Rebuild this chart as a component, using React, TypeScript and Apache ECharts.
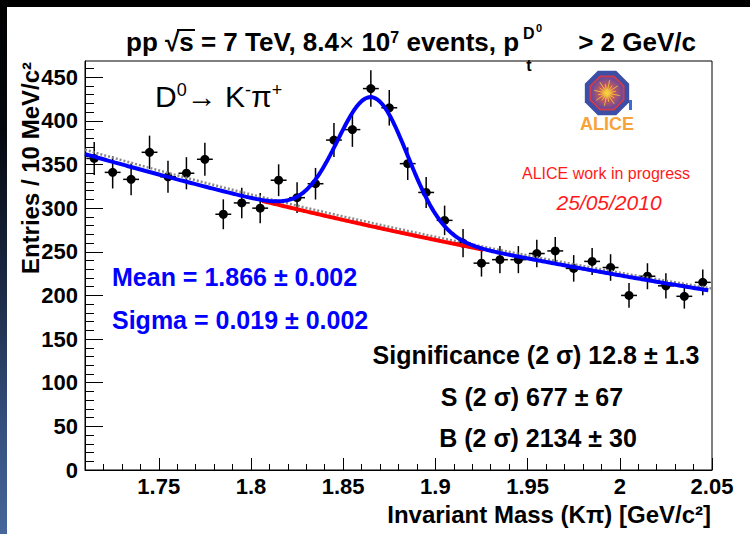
import React, { useEffect, useRef } from "react";
import * as echarts from "echarts";

const FONT = "'Liberation Sans', Arial, Helvetica, sans-serif";

// ---- data ----
const massBins = [
  1.715, 1.725, 1.735, 1.745, 1.755, 1.765, 1.775, 1.785, 1.795, 1.805,
  1.815, 1.825, 1.835, 1.845, 1.855, 1.865, 1.875, 1.885, 1.895, 1.905,
  1.915, 1.925, 1.935, 1.945, 1.955, 1.965, 1.975, 1.985, 1.995, 2.005,
  2.015, 2.025, 2.035, 2.045,
];
const entries = [
  357, 341, 333, 364, 336, 340, 356, 293, 306, 300,
  332, 312, 328, 378, 390, 437, 415, 351, 318, 286,
  260, 237, 241, 241, 248, 251, 231, 239, 232, 200,
  222, 211, 199, 215,
];
const xTickValues = [1.75, 1.8, 1.85, 1.9, 1.95, 2, 2.05];
const yTickValues = [0, 50, 100, 150, 200, 250, 300, 350, 400, 450];

// fit parameters (gaussian signal + exponential background)
const fitMean = 1.866;
const fitSigma = 0.019;
const gaussAmp = 148;
const bkgNorm = 362;
const bkgSlope = 1.67;
const sidebandNorm = 367;
const signalRegion = [1.806, 1.926];

const X_MIN = 1.71;
const X_MAX = 2.05;
const Y_MAX = 468.6;

const bkg = (x: number, n: number) => n * Math.exp(-bkgSlope * (x - X_MIN));
const gauss = (x: number) =>
  gaussAmp * Math.exp(-0.5 * Math.pow((x - fitMean) / fitSigma, 2));

function sample(a: number, b: number, f: (x: number) => number) {
  const out: number[][] = [];
  const n = Math.round((b - a) / 0.001);
  for (let i = 0; i <= n; i++) {
    const x = a + ((b - a) * i) / n;
    out.push([x, f(x)]);
  }
  return out;
}

function octagon(cx: number, cy: number, r: number) {
  const pts: number[][] = [];
  for (let i = 0; i < 8; i++) {
    const a = Math.PI / 8 + (i * Math.PI) / 4;
    pts.push([cx + r * Math.cos(a), cy + r * Math.sin(a)]);
  }
  return pts;
}

function minorTicks(a: number, b: number, step: number, majors: number[]) {
  const out: number[] = [];
  const n = Math.round((b - a) / step);
  for (let i = 0; i <= n; i++) {
    const v = +(a + i * step).toFixed(4);
    if (!majors.some((m) => Math.abs(m - v) < 1e-6)) out.push(v);
  }
  return out;
}

function txt(
  x: number,
  y: number,
  text: string,
  o: { size: number; weight?: string; color?: string; align?: string; style?: string; rich?: any }
) {
  return {
    type: "text",
    x,
    y,
    z: 50,
    style: {
      text,
      align: o.align || "left",
      verticalAlign: "middle",
      fontFamily: FONT,
      fontSize: o.size,
      fontWeight: o.weight || "normal",
      fontStyle: o.style || "normal",
      fill: o.color || "#000",
      rich: o.rich,
    },
  };
}

export default function App() {
  const ref = useRef<HTMLDivElement>(null);

  useEffect(() => {
    const chart = echarts.init(ref.current!, null, { renderer: "svg" });

    const halfBin = 0.0043;
    const points = entries.map((v, i) => [massBins[i], v, Math.sqrt(v)]);

    const xMinor = minorTicks(1.72, 2.04, 0.01, xTickValues);
    const yMinor = minorTicks(0, 460, 10, yTickValues);

    const logoCx = 607;
    const logoCy = 93;
    const burst: any[] = [];
    for (let i = 0; i < 16; i++) {
      const a = (i * Math.PI) / 8 + 0.2;
      const len = i % 2 === 0 ? 13 : 9;
      burst.push({
        type: "line",
        shape: {
          x1: logoCx,
          y1: logoCy,
          x2: logoCx + len * Math.cos(a),
          y2: logoCy + len * Math.sin(a),
        },
        style: { stroke: "#f6d23a", lineWidth: 0.8 },
        z: 20,
      });
    }

    const TS = 26;
    const titleY = 42;
    const titleRich = {
      b: { fontFamily: FONT, fontSize: TS, fontWeight: "bold", fill: "#000" },
      n: { fontFamily: FONT, fontSize: TS, fontWeight: "normal", fill: "#000" },
      sup: { fontFamily: FONT, fontSize: 16, fontWeight: "bold", fill: "#000", verticalAlign: "top" },
    };

    const option: any = {
      animation: false,
      backgroundColor: "transparent",
      textStyle: { fontFamily: FONT },
      grid: {
        left: 85,
        top: 61,
        width: 627,
        height: 409,
        show: true,
        backgroundColor: "#fff",
        borderColor: "#000",
        borderWidth: 1,
        containLabel: false,
        outerBoundsMode: "none",
      },
      xAxis: [
        {
          type: "value",
          min: X_MIN,
          max: X_MAX,
          position: "bottom",
          axisLine: { show: true, onZero: false, lineStyle: { color: "#000", width: 1 } },
          axisTick: {
            show: true,
            inside: true,
            length: 12,
            customValues: xTickValues,
            lineStyle: { color: "#000", width: 1 },
          },
          axisLabel: {
            show: true,
            customValues: xTickValues,
            formatter: (v: number) => String(+v.toFixed(2)),
            color: "#000",
            fontWeight: "bold",
            fontSize: 22,
            fontFamily: FONT,
            margin: 5,
          },
          splitLine: { show: false },
        },
        {
          type: "value",
          min: X_MIN,
          max: X_MAX,
          position: "bottom",
          axisLine: { show: false },
          axisTick: {
            show: true,
            inside: true,
            length: 6,
            customValues: xMinor,
            lineStyle: { color: "#000", width: 1 },
          },
          axisLabel: { show: false },
          splitLine: { show: false },
        },
      ],
      yAxis: [
        {
          type: "value",
          min: 0,
          max: Y_MAX,
          position: "left",
          axisLine: { show: true, onZero: false, lineStyle: { color: "#000", width: 1 } },
          axisTick: {
            show: true,
            inside: true,
            length: 18,
            customValues: yTickValues,
            lineStyle: { color: "#000", width: 1 },
          },
          axisLabel: {
            show: true,
            customValues: yTickValues,
            color: "#000",
            fontWeight: "bold",
            fontSize: 22,
            fontFamily: FONT,
            margin: 7,
          },
          splitLine: { show: false },
        },
        {
          type: "value",
          min: 0,
          max: Y_MAX,
          position: "left",
          axisLine: { show: false },
          axisTick: {
            show: true,
            inside: true,
            length: 9,
            customValues: yMinor,
            lineStyle: { color: "#000", width: 1 },
          },
          axisLabel: { show: false },
          splitLine: { show: false },
        },
      ],
      series: [
        {
          type: "custom",
          name: "data",
          xAxisIndex: 0,
          yAxisIndex: 0,
          encode: { x: 0, y: 1 },
          z: 2,
          data: points,
          renderItem: (params: any, api: any) => {
            const x = api.value(0);
            const y = api.value(1);
            const e = api.value(2);
            const c = api.coord([x, y]);
            const t = api.coord([x, y + e]);
            const b = api.coord([x, y - e]);
            const l = api.coord([x - halfBin, y]);
            const r = api.coord([x + halfBin, y]);
            return {
              type: "group",
              children: [
                {
                  type: "line",
                  shape: { x1: t[0], y1: t[1], x2: b[0], y2: b[1] },
                  style: { stroke: "#000", lineWidth: 1.5 },
                },
                {
                  type: "line",
                  shape: { x1: l[0], y1: l[1], x2: r[0], y2: r[1] },
                  style: { stroke: "#000", lineWidth: 1.5 },
                },
                {
                  type: "circle",
                  shape: { cx: c[0], cy: c[1], r: 4.5 },
                  style: { fill: "#000" },
                },
              ],
            };
          },
        },
        {
          type: "line",
          name: "sideband",
          xAxisIndex: 0,
          yAxisIndex: 0,
          showSymbol: false,
          z: 3,
          data: sample(X_MIN, X_MAX, (x) => bkg(x, sidebandNorm)),
          lineStyle: { color: "#8a8a8a", width: 2.5, type: [2, 2] },
        },
        {
          type: "line",
          name: "background",
          xAxisIndex: 0,
          yAxisIndex: 0,
          showSymbol: false,
          z: 4,
          data: sample(signalRegion[0], signalRegion[1], (x) => bkg(x, bkgNorm)),
          lineStyle: { color: "#ff0000", width: 4 },
        },
        {
          type: "line",
          name: "total fit",
          xAxisIndex: 0,
          yAxisIndex: 0,
          showSymbol: false,
          z: 5,
          data: sample(X_MIN, 2.048, (x) => bkg(x, bkgNorm) + gauss(x)),
          lineStyle: { color: "#0000ff", width: 4 },
        },
      ],
      graphic: [
        // title
        txt(126, titleY, "{b|pp }{b|√}{b|s = 7 TeV, 8.4}{n|×}{b| 10}{sup|7}{b| events, p}", {
          size: TS,
          weight: "bold",
          rich: titleRich,
        }),
        {
          type: "line",
          z: 50,
          shape: { x1: 177, y1: 30, x2: 195, y2: 30 },
          style: { stroke: "#000", lineWidth: 2 },
        },
        txt(523, 33, "D", { size: 16, weight: "bold" }),
        txt(536, 28, "0", { size: 11, weight: "bold" }),
        txt(529, 65, "t", { size: 16, weight: "bold", align: "center" }),
        txt(696, titleY, "> 2 GeV/c", { size: TS, weight: "bold", align: "right" }),
        // decay label
        txt(155, 96, "{b|D}{sup|0}{b|→ K}{sup|-}{b|π}{sup|+}", {
          size: 30,
          rich: {
            b: { fontFamily: FONT, fontSize: 30, fill: "#000" },
            sup: { fontFamily: FONT, fontSize: 18, fill: "#000", verticalAlign: "top" },
          },
        }),
        // stats
        txt(112, 277, "Mean = 1.866 ± 0.002", { size: 25, weight: "bold", color: "#0000ff" }),
        txt(112, 320, "Sigma = 0.019 ± 0.002", { size: 25, weight: "bold", color: "#0000ff" }),
        txt(536, 355, "Significance (2 σ) 12.8 ± 1.3", { size: 25, weight: "bold", align: "center" }),
        txt(532, 397, "S (2 σ) 677 ± 67", { size: 25, weight: "bold", align: "center" }),
        txt(538, 438, "B (2 σ) 2134 ± 30", { size: 25, weight: "bold", align: "center" }),
        // ALICE labels
        txt(606, 173, "ALICE work in progress", { size: 16, color: "#ff1a1a", align: "center" }),
        txt(609, 202, "25/05/2010", { size: 21, color: "#ff1a1a", align: "center", style: "italic" }),
        // logo
        {
          type: "polygon",
          z: 20,
          shape: { points: octagon(logoCx, logoCy, 24) },
          style: { fill: "#3c4ea6" },
        },
        {
          type: "polygon",
          z: 20,
          shape: { points: octagon(logoCx, logoCy, 19) },
          style: { fill: "#d23a4a" },
        },
        {
          type: "polygon",
          z: 20,
          shape: { points: octagon(logoCx, logoCy, 17) },
          style: {
            fill: {
              type: "radial",
              x: 0.5,
              y: 0.5,
              r: 0.5,
              colorStops: [
                { offset: 0, color: "#f8d040" },
                { offset: 0.45, color: "#c85a5a" },
                { offset: 1, color: "#6a4a9a" },
              ],
            },
          },
        },
        ...burst,
        {
          type: "rect",
          z: 21,
          shape: { x: 629, y: 100, width: 3, height: 10 },
          style: { fill: "#3c6ad0" },
        },
        txt(607, 124, "ALICE", { size: 18, weight: "bold", color: "#f5a33a", align: "center" }),
        // axis titles
        {
          type: "text",
          x: 30,
          y: 62,
          rotation: Math.PI / 2,
          z: 50,
          style: {
            text: "Entries / 10 MeV/c²",
            align: "right",
            verticalAlign: "middle",
            fontFamily: FONT,
            fontSize: 24,
            fontWeight: "bold",
            fill: "#000",
          },
        },
        txt(711, 514, "Invariant Mass (Kπ) [GeV/c²]", { size: 24, weight: "bold", align: "right" }),
      ],
    };

    chart.setOption(option);
    return () => chart.dispose();
  }, []);

  return (
    <div
      style={{
        position: "fixed",
        left: 0,
        top: 0,
        width: 750,
        height: 534,
        overflow: "hidden",
        background:
          "linear-gradient(to bottom, #000 0%, #05080f 25%, #1c2b48 55%, #34507e 80%, #46679a 100%)",
      }}
    >
      <div
        style={{
          position: "absolute",
          left: 7,
          top: 7,
          width: 743,
          height: 527,
          background: "#fff",
        }}
      />
      <div
        ref={ref}
        style={{ position: "absolute", left: 0, top: 0, width: 750, height: 534 }}
      />
    </div>
  );
}
